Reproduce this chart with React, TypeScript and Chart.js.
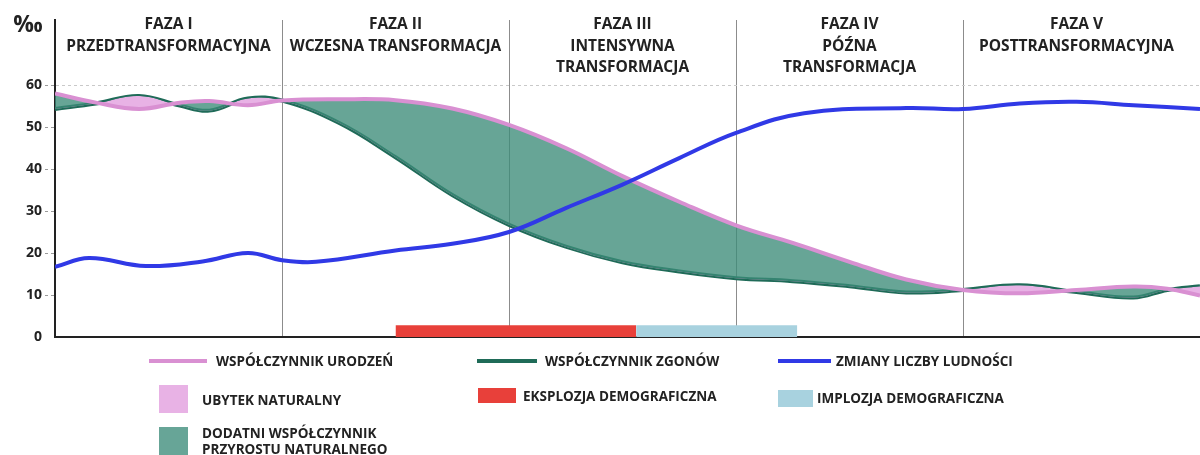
import React, { useEffect, useRef } from "react";
import { Chart, registerables } from "chart.js";

Chart.register(...registerables);

// ---- data (x in phase units: 0 = start of phase I, 1 = start of phase II, ...) ----
const phaseLabels: string[][] = [
  ["FAZA I", "PRZEDTRANSFORMACYJNA"],
  ["FAZA II", "WCZESNA TRANSFORMACJA"],
  ["FAZA III", "INTENSYWNA", "TRANSFORMACJA"],
  ["FAZA IV", "PÓŹNA", "TRANSFORMACJA"],
  ["FAZA V", "POSTTRANSFORMACYJNA"],
];
const phaseBounds = [1, 2, 3, 4];
const yTicks = [0, 10, 20, 30, 40, 50, 60];

const rateX = [0, 0.18, 0.37, 0.55, 0.68, 0.85, 1.0, 1.25, 1.5, 1.75, 2.0, 2.25, 2.5, 2.75, 3.0, 3.25, 3.5, 3.75, 4.0, 4.25, 4.5, 4.75, 4.9, 5.044];
const birthRate = [58, 55.8, 54.3, 55.8, 56.2, 55.2, 56.3, 56.6, 56.4, 54.4, 50.5, 45.0, 38.3, 32.2, 26.6, 22.4, 17.9, 13.7, 11.2, 10.4, 11.2, 12.0, 11.5, 9.9];
const deathRate = [54.3, 55.6, 57.4, 55.1, 53.9, 56.8, 56.3, 51.0, 42.8, 33.8, 26.7, 21.5, 17.8, 15.6, 14.0, 13.3, 12.1, 10.6, 11.2, 12.3, 10.7, 9.4, 11.2, 12.1];

const popX = [0, 0.15, 0.4, 0.65, 0.85, 1.0, 1.15, 1.5, 1.75, 2.0, 2.25, 2.5, 2.75, 3.0, 3.3, 3.75, 4.0, 4.25, 4.5, 4.75, 5.044];
const popChange = [16.7, 18.8, 16.9, 18.0, 20.0, 18.3, 17.9, 20.6, 22.2, 25.0, 30.7, 36.3, 42.6, 48.6, 53.3, 54.5, 54.3, 55.6, 56.0, 55.2, 54.3];

const explosionRange = [1.5, 2.56];
const implosionRange = [2.56, 3.27];
const barHeight = 2.8;

const COLORS = {
  birth: "#d990d2",
  death: "#1f6b58",
  pop: "#3039e6",
  fillLoss: "#e8b2e5",
  fillGain: "rgba(60,140,120,0.78)",
  gainSwatch: "#67a597",
  explosion: "#e8403a",
  implosion: "#a8d2df",
  text: "#222222",
};

const FONT = "'Open Sans', 'DejaVu Sans', sans-serif";

const toPts = (xs: number[], ys: number[]) => xs.map((x, i) => ({ x, y: ys[i] }));

const overlayPlugin = {
  id: "overlay",
  afterDraw(chart: any) {
    const { ctx } = chart;
    const xs = chart.scales.x;
    ctx.save();
    ctx.fillStyle = COLORS.text;
    ctx.textAlign = "center";
    ctx.textBaseline = "middle";
    ctx.font = `700 15.5px ${FONT}`;
    phaseLabels.forEach((lines, i) => {
      const cx = xs.getPixelForValue(i + 0.5);
      lines.forEach((t, j) => {
        ctx.fillText(t, cx, 25 + j * 21.5);
      });
    });
    ctx.font = `700 23px ${FONT}`;
    ctx.fillText("‰", 28, 25);
    ctx.restore();
  },
};

export default function App() {
  const canvasRef = useRef<HTMLCanvasElement | null>(null);

  useEffect(() => {
    if (!canvasRef.current) return;
    const chart = new Chart(canvasRef.current, {
      type: "line",
      data: {
        datasets: [
          {
            label: "birth",
            data: toPts(rateX, birthRate),
            borderColor: COLORS.birth,
            borderWidth: 4,
            pointRadius: 0,
            tension: 0.4,
            fill: { target: 1, above: COLORS.fillGain, below: COLORS.fillLoss },
            order: 2,
          },
          {
            label: "death",
            data: toPts(rateX, deathRate),
            borderColor: COLORS.death,
            borderWidth: 4,
            pointRadius: 0,
            tension: 0.4,
            fill: false,
            order: 3,
          },
          {
            label: "pop",
            data: toPts(popX, popChange),
            borderColor: COLORS.pop,
            borderWidth: 4,
            pointRadius: 0,
            tension: 0.4,
            fill: false,
            order: 1,
          },
          {
            label: "explosion",
            data: explosionRange.map((x) => ({ x, y: barHeight })),
            borderWidth: 0,
            borderColor: "rgba(0,0,0,0)",
            backgroundColor: COLORS.explosion,
            pointRadius: 0,
            tension: 0,
            fill: "origin",
            order: 4,
          },
          {
            label: "implosion",
            data: implosionRange.map((x) => ({ x, y: barHeight })),
            borderWidth: 0,
            borderColor: "rgba(0,0,0,0)",
            backgroundColor: COLORS.implosion,
            pointRadius: 0,
            tension: 0,
            fill: "origin",
            order: 4,
          },
        ],
      },
      options: {
        responsive: false,
        animation: false,
        layout: { padding: { top: 20, bottom: 118, left: 0, right: 0 } },
        plugins: {
          legend: { display: false },
          tooltip: { enabled: false },
          filler: { propagate: false },
        },
        scales: {
          x: {
            type: "linear",
            min: 0,
            max: 5.044,
            afterBuildTicks: (s: any) => {
              s.ticks = phaseBounds.map((v) => ({ value: v }));
            },
            afterFit: (s: any) => {
              s.height = 0;
            },
            ticks: { display: false },
            grid: { display: true, color: "#8c8c8c", lineWidth: 1, drawTicks: false },
            border: { display: true, color: "#222", width: 2 },
          },
          y: {
            type: "linear",
            min: 0,
            max: 75.48,
            afterBuildTicks: (s: any) => {
              s.ticks = yTicks.map((v) => ({ value: v }));
            },
            afterFit: (s: any) => {
              s.width = 55;
            },
            ticks: {
              color: COLORS.text,
              font: { family: FONT, size: 14, weight: "bold" },
              padding: 3,
            },
            grid: {
              display: true,
              color: (c: any) => (c.tick && c.tick.value === 60 ? "#c9c9c9" : "rgba(0,0,0,0)"),
              tickColor: (c: any) => (c.tick && c.tick.value > 0 ? "#9a9a9a" : "rgba(0,0,0,0)"),
              tickLength: 10,
              tickBorderDash: [3, 3],
              lineWidth: 1,
            },
            border: { display: true, color: "#222", width: 2, dash: [3, 3] },
          },
        },
      },
      plugins: [overlayPlugin],
    } as any);
    return () => chart.destroy();
  }, []);

  const txt: React.CSSProperties = {
    position: "absolute",
    fontFamily: FONT,
    fontWeight: 700,
    fontSize: 13.5,
    color: COLORS.text,
    whiteSpace: "nowrap",
    lineHeight: "16px",
  };
  const box = (l: number, t: number, w: number, h: number, c: string): React.CSSProperties => ({
    position: "absolute",
    left: l,
    top: t,
    width: w,
    height: h,
    background: c,
  });

  return (
    <div style={{ position: "fixed", left: 0, top: 0, width: 1200, height: 455, background: "#fff", overflow: "hidden" }}>
      <canvas ref={canvasRef} width={1200} height={455} style={{ position: "absolute", left: 0, top: 0 }} />
      {/* row 1 */}
      <div style={box(149, 359, 58, 4, COLORS.birth)} />
      <div style={{ ...txt, left: 216, top: 353 }}>WSPÓŁCZYNNIK URODZEŃ</div>
      <div style={box(477, 359, 60, 4, COLORS.death)} />
      <div style={{ ...txt, left: 545, top: 353 }}>WSPÓŁCZYNNIK ZGONÓW</div>
      <div style={box(778, 359, 53, 4, COLORS.pop)} />
      <div style={{ ...txt, left: 836, top: 353 }}>ZMIANY LICZBY LUDNOŚCI</div>
      {/* row 2 */}
      <div style={box(159, 385, 29, 28, COLORS.fillLoss)} />
      <div style={{ ...txt, left: 202, top: 392 }}>UBYTEK NATURALNY</div>
      <div style={box(478, 388, 38, 15, COLORS.explosion)} />
      <div style={{ ...txt, left: 523, top: 388 }}>EKSPLOZJA DEMOGRAFICZNA</div>
      <div style={box(778, 390, 35, 17, COLORS.implosion)} />
      <div style={{ ...txt, left: 817, top: 390 }}>IMPLOZJA DEMOGRAFICZNA</div>
      {/* row 3 */}
      <div style={box(159, 427, 29, 30, COLORS.gainSwatch)} />
      <div style={{ ...txt, left: 202, top: 425 }}>
        DODATNI WSPÓŁCZYNNIK
        <br />
        PRZYROSTU NATURALNEGO
      </div>
    </div>
  );
}
